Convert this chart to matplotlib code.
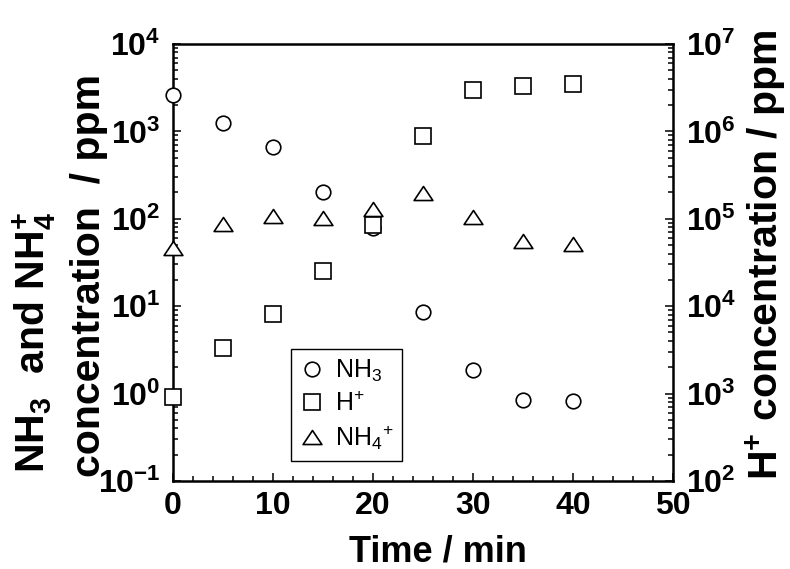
import numpy as np
import matplotlib
matplotlib.use('Agg')
import matplotlib.pyplot as plt
from matplotlib.path import Path
from matplotlib.ticker import LogLocator, MultipleLocator, NullFormatter

plt.rcParams['font.family'] = ['Liberation Sans', 'DejaVu Sans']
plt.rcParams['axes.unicode_minus'] = False

# data
time_min = [0, 5, 10, 15, 20, 25, 30, 35, 40]
nh3_ppm = [2600, 1260, 660, 205, 78, 8.6, 1.85, 0.84, 0.82]
nh4_ppm = [46, 87, 109, 101, 129, 196, 106, 55, 52]
h_ppm = [920, 3300, 8100, 25000, 85000, 890000, 2.98e6, 3.3e6, 3.5e6]

legend_labels = ['NH$_\\mathregular{3}$', 'H$^\\mathregular{+}$',
                 'NH$_\\mathregular{4}$$^\\mathregular{+}$']

# wide, flat triangle like the original marker
tri = Path([(-1, -0.75), (1, -0.75), (0, 0.75), (-1, -0.75)], closed=True)

fig = plt.figure(figsize=(7.9, 5.69), dpi=100)
ax = fig.add_axes([0.219, 0.1547, 0.633, 0.768])
ax2 = ax.twinx()

mk = dict(linestyle='none', markerfacecolor='white', markeredgecolor='black',
          markeredgewidth=1.2, clip_on=False, zorder=3)

h1, = ax.plot(time_min, nh3_ppm, marker='o', markersize=10.5, **mk)
h3, = ax.plot(time_min, nh4_ppm, marker=tri, markersize=13.5, **mk)
h2, = ax2.plot(time_min, h_ppm, marker='s', markersize=11.2, **mk)

ax.set_yscale('log')
ax2.set_yscale('log')
ax.set_xlim(0, 50)
ax.set_ylim(1e-1, 1e4)
ax2.set_ylim(1e2, 1e7)

ax.xaxis.set_major_locator(MultipleLocator(10))
ax.xaxis.set_minor_locator(MultipleLocator(2))
for a in (ax, ax2):
    a.yaxis.set_major_locator(LogLocator(base=10, numticks=10))
    a.yaxis.set_minor_locator(LogLocator(base=10, subs=np.arange(2, 10), numticks=20))
    a.yaxis.set_minor_formatter(NullFormatter())

lw = 1.8
for s in ax.spines.values():
    s.set_linewidth(lw)
ax.spines['right'].set_visible(False)
for side in ('left', 'top', 'bottom'):
    ax2.spines[side].set_visible(False)
ax2.spines['right'].set_linewidth(lw)

ax.tick_params(axis='both', which='both', direction='in', top=False, right=False,
               width=1.1, labelsize=23)
ax.tick_params(which='major', length=5.5)
ax.tick_params(which='minor', length=3.5)
ax.tick_params(axis='x', pad=7)
ax.tick_params(axis='y', pad=9)
ax2.tick_params(axis='y', which='both', direction='in', width=1.1, labelsize=23, pad=9)
ax2.tick_params(which='major', length=5.5)
ax2.tick_params(which='minor', length=3.5)
for lab in ax.get_xticklabels() + ax.get_yticklabels() + ax2.get_yticklabels():
    lab.set_fontweight('bold')

fig.text(0.5544, 0.0135, 'Time / min', ha='center', va='baseline',
         fontsize=26, fontweight='bold')
fig.text(0.057, 0.1687, 'NH$_\\mathregular{3}$  and NH$_\\mathregular{4}^\\mathregular{+}$',
         rotation=90, rotation_mode='anchor', ha='left', va='baseline',
         fontsize=29.5, fontweight='bold')
fig.text(0.1266, 0.1617, 'concentration  / ppm', rotation=90, rotation_mode='anchor',
         ha='left', va='baseline', fontsize=29.5, fontweight='bold')
fig.text(0.985, 0.1564, 'H$^\\mathregular{+}$ concentration / ppm', rotation=90,
         rotation_mode='anchor', ha='left', va='baseline', fontsize=29.5, fontweight='bold')

leg = ax.legend([h1, h2, h3], legend_labels, loc='upper left',
                bbox_to_anchor=(0.236, 0.302), fontsize=18, frameon=True,
                fancybox=False, edgecolor='black', framealpha=1,
                handlelength=1.0, handletextpad=0.4, labelspacing=0.3,
                borderpad=0.35, borderaxespad=0)
leg.get_frame().set_linewidth(1.0)
leg.set_zorder(5)

fig.savefig('out.png', dpi=100)
